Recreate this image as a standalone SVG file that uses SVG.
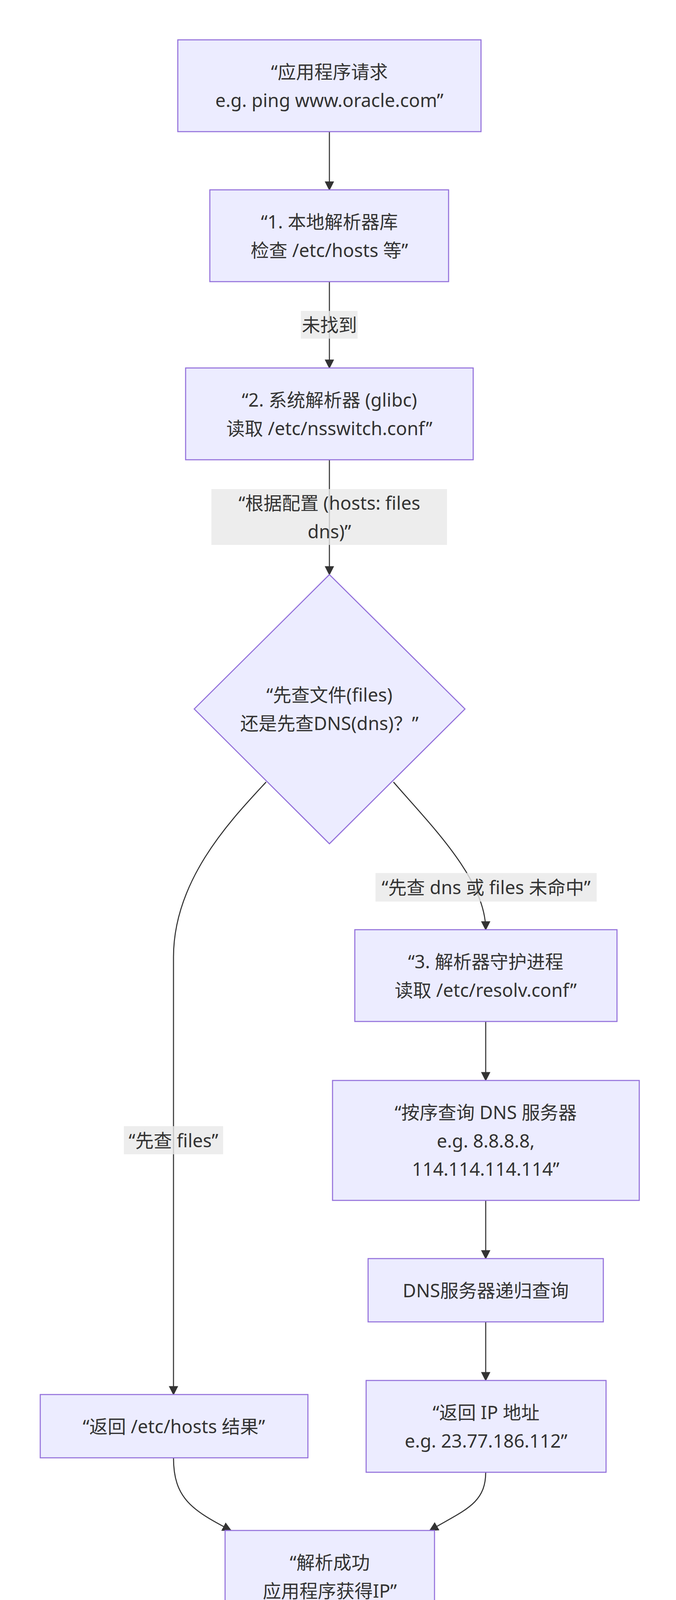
<svg xmlns="http://www.w3.org/2000/svg" width="1730" height="4255" viewBox="0 0 1730 4255">
<defs>
<style>
.node rect,.node polygon{fill:#ECECFF;stroke:#9370DB;stroke-width:2.7}
text{font-family:"Noto Sans","Noto Sans CJK SC",sans-serif;font-size:47px;fill:#333;text-anchor:middle;dominant-baseline:central}
.edge{fill:none;stroke:#333;stroke-width:2.7}
.lbl rect{fill:rgba(232,232,232,0.8)}
</style>
<marker id="arr" viewBox="0 0 10 10" refX="9" refY="5" markerUnits="userSpaceOnUse" markerWidth="24" markerHeight="24" orient="auto">
<path d="M0,0 L10,5 L0,10 z" fill="#333"/>
</marker>
</defs>
<rect width="1730" height="4255" fill="#fff"/>
<g id="connectors">
<path class="edge" d="M843,337 L843,486" marker-end="url(#arr)"/>
<path class="edge" d="M843,721 L843,942" marker-end="url(#arr)"/>
<path class="edge" d="M843,1177 L843,1471" marker-end="url(#arr)"/>
<path class="edge" d="M681,2002 C595,2095 444,2250 444,2450 L444,3570" marker-end="url(#arr)"/>
<path class="edge" d="M1007,2002 C1100,2110 1243,2250 1243,2380" marker-end="url(#arr)"/>
<path class="edge" d="M1243,2615 L1243,2766" marker-end="url(#arr)"/>
<path class="edge" d="M1243,3073 L1243,3222" marker-end="url(#arr)"/>
<path class="edge" d="M1243,3384 L1243,3534" marker-end="url(#arr)"/>
<path class="edge" d="M444,3732 C444,3835 491,3866 591,3918" marker-end="url(#arr)"/>
<path class="edge" d="M1243,3769 C1243,3850 1188,3866 1100,3918" marker-end="url(#arr)"/>
<g class="lbl" id="lbl1"><rect x="770" y="796" width="145" height="71"/><text x="843" y="831">未找到</text></g>
<g class="lbl" id="lbl2"><rect x="541" y="1252" width="603" height="143"/><text x="843" y="1287">“根据配置 (hosts: files</text><text x="843" y="1360">dns)”</text></g>
<g class="lbl" id="lbl3"><rect x="961" y="2235" width="566" height="73"/><text x="1244" y="2271">“先查 dns 或 files 未命中”</text></g>
<g class="lbl" id="lbl4"><rect x="317" y="2883" width="254" height="72"/><text x="444" y="2919">“先查 files”</text></g>
</g>
<g id="nodeA" class="node"><rect x="455" y="102" width="776" height="235"/><text x="843" y="183">“应用程序请求</text><text x="843" y="256">e.g. ping www.oracle.com”</text></g>
<g id="nodeB" class="node"><rect x="537" y="486" width="611" height="235"/><text x="843" y="567">“1. 本地解析器库</text><text x="843" y="640">检查 /etc/hosts 等”</text></g>
<g id="nodeC" class="node"><rect x="475" y="942" width="736" height="235"/><text x="843" y="1023">“2. 系统解析器 (glibc)</text><text x="843" y="1096">读取 /etc/nsswitch.conf”</text></g>
<g id="nodeDecision" class="node"><polygon points="843,1471 1190,1815 843,2160 497,1815"/><text x="843" y="1778">“先查文件(files)</text><text x="843" y="1851">还是先查DNS(dns)？”</text></g>
<g id="nodeD" class="node"><rect x="908" y="2380" width="671" height="235"/><text x="1243" y="2461">“3. 解析器守护进程</text><text x="1243" y="2534">读取 /etc/resolv.conf”</text></g>
<g id="nodeE" class="node"><rect x="851" y="2766" width="785" height="307"/><text x="1243" y="2847">“按序查询 DNS 服务器</text><text x="1243" y="2920">e.g. 8.8.8.8,</text><text x="1243" y="2992">114.114.114.114”</text></g>
<g id="nodeF" class="node"><rect x="942" y="3222" width="602" height="162"/><text x="1243" y="3303">DNS服务器递归查询</text></g>
<g id="nodeG" class="node"><rect x="103" y="3570" width="685" height="162"/><text x="445" y="3651">“返回 /etc/hosts 结果”</text></g>
<g id="nodeH" class="node"><rect x="937" y="3534" width="614" height="235"/><text x="1244" y="3615">“返回 IP 地址</text><text x="1244" y="3688">e.g. 23.77.186.112”</text></g>
<g id="nodeI" class="node"><rect x="576" y="3918" width="536" height="234"/><text x="844" y="3999">“解析成功</text><text x="844" y="4072">应用程序获得IP”</text></g>
</svg>
